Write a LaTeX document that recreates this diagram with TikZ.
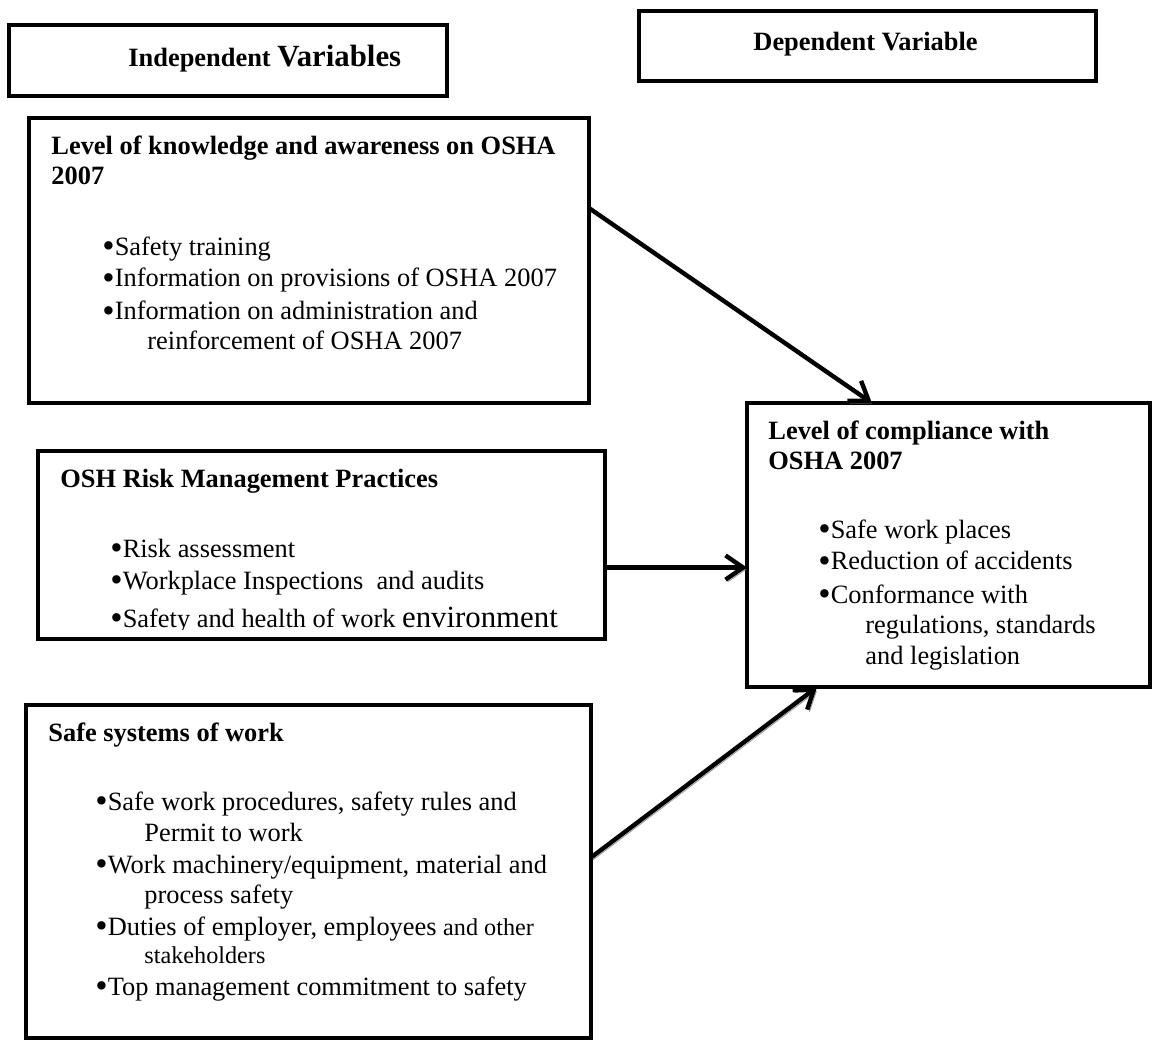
\documentclass[tikz,border=0pt]{standalone}
\usepackage{fontspec}
\setmainfont{Liberation Serif}
\usetikzlibrary{arrows.meta,fit,calc}

\newcommand{\bigbul}{\raisebox{-1.3pt}{\fontsize{16}{16}\selectfont\textbullet}}

\tikzset{
  frame/.style={draw, line width=2.1pt, inner sep=0pt, outer sep=0pt},
  txt/.style={anchor=base west, inner sep=0pt, font=\fontsize{12}{14}\selectfont},
  head/.style={txt, font=\fontsize{12}{14}\selectfont\bfseries},
  link/.style={line width=2pt, -{Straight Barb[length=8pt,width=11pt]},
    preaction={draw=black!40, transform canvas={shift={(1pt,-1pt)}}}}
}

\begin{document}
\begin{tikzpicture}[x=0.4545pt, y=-0.4545pt]
\useasboundingbox (0,0) rectangle (1152,1043);

% headings
\node[frame, line width=2.2pt, fit={(9,25) (447,96)}] (indep) {};
\node[frame, fit={(639,11) (1096,81)}] (dep) {};
\node[head] (indeptxt) at (128,67) {Independent {\fontsize{14}{16}\selectfont Variables}};
\node[head] (deptxt) at (753,51) {Dependent Variable};

% boxes
\node[frame, fit={(29,118) (589,403)}] (know) {};
\node[frame, fit={(38,451) (605,639)}] (risk) {};
\node[frame, line width=1.8pt, fit={(26,705) (591,1038)}] (safe) {};
\node[frame, fit={(747,403) (1150,687)}] (comp) {};

% knowledge and awareness
\node[head] (know1) at (51,155) {Level of knowledge and awareness on OSHA};
\node[head] (know2) at (51,185) {2007};
\foreach \x/\y/\t [count=\i] in {102/255/{\bigbul Safety training},
    102/287/{\bigbul Information on provisions of OSHA 2007},
    102/320/{\bigbul Information on administration and},
    147/350/{reinforcement of OSHA 2007}}
  \node[txt] (knowb\i) at (\x,\y) {\t};

% risk management
\node[head] (risk1) at (60,487) {OSH Risk Management Practices};
\node[txt] (riskb1) at (110,557) {\bigbul Risk assessment};
\node[txt] (riskb2) at (110,589) {\bigbul Workplace Inspections\ \ and audits};
\begin{scope}
  \clip (40,453) rectangle (603,629);
  \node[txt] (riskb3) at (110,627) {\bigbul Safety and health of work {\fontsize{14}{16}\selectfont environment}};
\end{scope}

% safe systems
\node[head] (safe1) at (48,741) {Safe systems of work};
\foreach \x/\y/\t [count=\i] in {95/810/{\bigbul Safe work procedures, safety rules and},
    144/841/{Permit to work},
    95/873/{\bigbul Work machinery/equipment, material and},
    144/903/{process safety},
    95/935/{\bigbul Duties of employer, employees {\fontsize{11}{13}\selectfont and other}},
    144/963/{\fontsize{11}{13}\selectfont stakeholders},
    95/995/{\bigbul Top management commitment to safety}}
  \node[txt] (safeb\i) at (\x,\y) {\t};

% compliance
\node[head] (comp1) at (768,439) {Level of compliance with};
\node[head] (comp2) at (768,469) {OSHA 2007};
\foreach \x/\y/\t [count=\i] in {818/538/{\bigbul Safe work places},
    818/570/{\bigbul Reduction of accidents},
    818/603/{\bigbul Conformance with},
    865/633/{regulations, standards},
    865/664/{and legislation}}
  \node[txt] (compb\i) at (\x,\y) {\t};

% arrows
\coordinate (k) at ($(know.north east)!0.316!(know.south east)$);
\coordinate (kc) at ($(comp.north west)!0.31!(comp.north east)$);
\coordinate (r) at ($(risk.north east)!0.62!(risk.south east)$);
\coordinate (s) at ($(safe.north east)!0.458!(safe.south east)$);
\coordinate (sc) at ($(comp.south west)!0.174!(comp.south east)$);
\draw[link] (k) -- (kc);
\draw[link] (r) -- (r -| comp.west);
\draw[link] (s) -- (sc);

\end{tikzpicture}
\end{document}
